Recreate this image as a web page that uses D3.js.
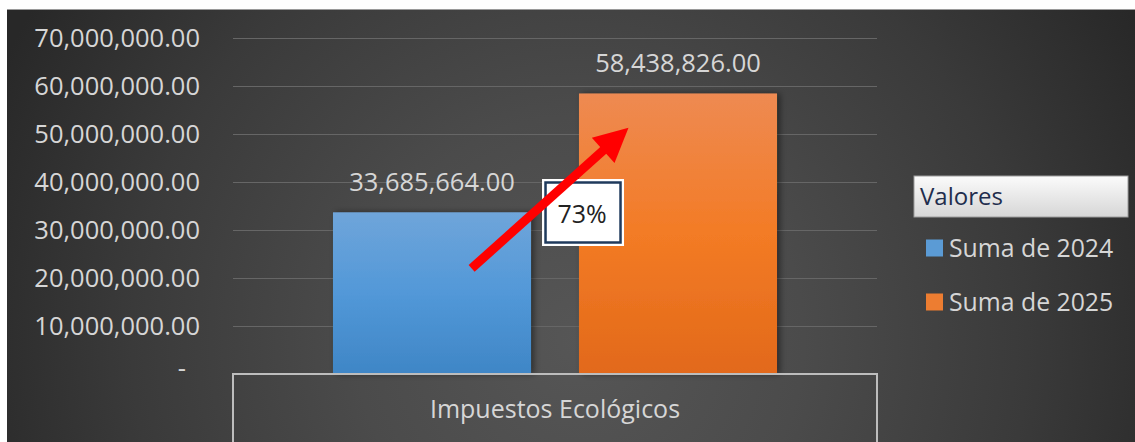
<!DOCTYPE html>
<html>
<head>
<meta charset="utf-8">
<script src="https://cdn.jsdelivr.net/npm/d3@7"></script>
<style>
  html, body { margin: 0; padding: 0; background: #fff; }
  svg { display: block; }
</style>
</head>
<body>
<div id="chart-container"></div>
<script>
// chart data
var categories = ['Impuestos Ecológicos'];
var seriesNames = ['Suma de 2024', 'Suma de 2025'];
var values2024 = [33685664];
var values2025 = [58438826];
var yTicks = [0, 10000000, 20000000, 30000000, 40000000, 50000000, 60000000, 70000000];
var legendTitle = 'Valores';
// arrow annotation, in data terms: [series, position inside bar, value]
var arrowFrom = ['Suma de 2024', 0.7, 22000000];
var arrowTo = ['Suma de 2025', 0.25, 51300000];

var svgWidth = 1135,
    svgHeight = 442,
    svg = d3.select('#chart-container').append('svg').attr('width', svgWidth).attr('height', svgHeight),
    plot = { left: 233, right: 877, top: 38, bottom: 374 };

var defs = svg.append('defs');

var bg = defs.append('radialGradient').attr('id', 'bg')
  .attr('gradientUnits', 'userSpaceOnUse')
  .attr('cx', 580).attr('cy', 340).attr('r', 640);
bg.append('stop').attr('offset', '0').attr('stop-color', '#565656');
bg.append('stop').attr('offset', '0.35').attr('stop-color', '#4b4b4b');
bg.append('stop').attr('offset', '0.7').attr('stop-color', '#3a3a3a');
bg.append('stop').attr('offset', '1').attr('stop-color', '#282828');

var blue = defs.append('linearGradient').attr('id', 'g2024').attr('x1', 0).attr('y1', 0).attr('x2', 0).attr('y2', 1);
blue.append('stop').attr('offset', '0').attr('stop-color', '#6fa5da');
blue.append('stop').attr('offset', '0.5').attr('stop-color', '#5298d8');
blue.append('stop').attr('offset', '1').attr('stop-color', '#3f86c6');

var orange = defs.append('linearGradient').attr('id', 'g2025').attr('x1', 0).attr('y1', 0).attr('x2', 0).attr('y2', 1);
orange.append('stop').attr('offset', '0').attr('stop-color', '#ee8a52');
orange.append('stop').attr('offset', '0.5').attr('stop-color', '#f37b25');
orange.append('stop').attr('offset', '1').attr('stop-color', '#e2691a');

var hdr = defs.append('linearGradient').attr('id', 'hdr').attr('x1', 0).attr('y1', 0).attr('x2', 0).attr('y2', 1);
hdr.append('stop').attr('offset', '0').attr('stop-color', '#fbfbfb');
hdr.append('stop').attr('offset', '1').attr('stop-color', '#d6d6d6');

var shadow = defs.append('filter').attr('id', 'shadow').attr('x', '-10%').attr('y', '-10%').attr('width', '130%').attr('height', '120%');
shadow.append('feDropShadow').attr('dx', 3).attr('dy', 0).attr('stdDeviation', 3)
  .attr('flood-color', '#000').attr('flood-opacity', 0.45);

var colors = { 'Suma de 2024': 'url(#g2024)', 'Suma de 2025': 'url(#g2025)' };
var legendColors = { 'Suma de 2024': '#5b9bd5', 'Suma de 2025': '#ed7d31' };

// chart area
svg.append('rect').attr('x', 7).attr('y', 9).attr('width', svgWidth - 7).attr('height', svgHeight - 9)
  .attr('fill', 'url(#bg)');
svg.append('line').attr('x1', 7).attr('x2', svgWidth).attr('y1', 9.5).attr('y2', 9.5)
  .attr('stroke', '#9a9a9a').attr('stroke-width', 1);

var x0 = d3.scaleBand().domain(categories).range([plot.left, plot.right]);
var x1 = d3.scaleBand().domain(seriesNames).range([0, x0.bandwidth()])
  .paddingInner(0.195).paddingOuter(0.4065);
var y = d3.scaleLinear().domain([0, 70000000]).range([plot.bottom, plot.top]);

var fmt = d3.format(',.2f');
var font = '"Open Sans", "DejaVu Sans", sans-serif';
var textGrey = '#d6d6d6';

// grid
svg.append('g').attr('class', 'grid')
  .selectAll('line').data(yTicks.filter(function(d) { return d > 0; })).enter().append('line')
  .attr('x1', plot.left).attr('x2', plot.right)
  .attr('y1', function(d) { return Math.round(y(d)) + 0.5; })
  .attr('y2', function(d) { return Math.round(y(d)) + 0.5; })
  .attr('stroke', '#666').attr('stroke-width', 1.2);

// y axis labels
var yAxis = svg.append('g').attr('transform', 'translate(200,0)')
  .call(d3.axisLeft(y).tickValues(yTicks).tickSize(0).tickPadding(0)
    .tickFormat(function(d) { return d === 0 ? '-' : fmt(d); }));
yAxis.select('.domain').remove();
yAxis.selectAll('text')
  .attr('fill', textGrey).attr('font-family', font).attr('font-size', 25.5)
  .attr('dy', '0.35em');
yAxis.selectAll('.tick').filter(function(d) { return d === 0; }).select('text')
  .attr('x', -14).attr('dy', '0.1em');

// bars
var rows = categories.map(function(c, i) {
  return { category: c, values: [
    { key: seriesNames[0], value: values2024[i] },
    { key: seriesNames[1], value: values2025[i] }
  ] };
});

var groups = svg.append('g').selectAll('g').data(rows).enter().append('g')
  .attr('transform', function(d) { return 'translate(' + x0(d.category) + ',0)'; });

groups.selectAll('rect').data(function(d) { return d.values; }).enter().append('rect')
  .attr('x', function(d) { return x1(d.key); })
  .attr('y', function(d) { return y(d.value); })
  .attr('width', x1.bandwidth())
  .attr('height', function(d) { return y(0) - y(d.value); })
  .attr('fill', function(d) { return colors[d.key]; })
  .attr('filter', 'url(#shadow)');

groups.selectAll('text.val').data(function(d) { return d.values; }).enter().append('text')
  .attr('class', 'val')
  .attr('x', function(d) { return x1(d.key) + x1.bandwidth() / 2; })
  .attr('y', function(d) { return y(d.value) - 30; })
  .attr('text-anchor', 'middle')
  .attr('dy', '0.35em')
  .attr('fill', textGrey).attr('font-family', font).attr('font-size', 25.5)
  .text(function(d) { return fmt(d.value); });

// category axis box
svg.append('rect').attr('x', plot.left).attr('y', plot.bottom)
  .attr('width', plot.right - plot.left).attr('height', 80)
  .attr('fill', 'none').attr('stroke', '#bdbdbd').attr('stroke-width', 2);
svg.append('g').selectAll('text').data(categories).enter().append('text')
  .attr('x', function(d) { return x0(d) + x0.bandwidth() / 2; })
  .attr('y', 409)
  .attr('text-anchor', 'middle').attr('dy', '0.35em')
  .attr('fill', textGrey).attr('font-family', font).attr('font-size', 25)
  .text(function(d) { return d; });

// change box
var change = values2025[0] / values2024[0] - 1;
var bx = x0(categories[0]) + x1(seriesNames[0]) + x1.bandwidth() + 11,
    by = 179;
svg.append('rect').attr('x', bx).attr('y', by).attr('width', 82).attr('height', 67).attr('fill', '#fff');
svg.append('rect').attr('x', bx + 3.5).attr('y', by + 3.5).attr('width', 75).attr('height', 60)
  .attr('fill', '#fff').attr('stroke', '#1f3a5c').attr('stroke-width', 2.5);
svg.append('text').attr('x', bx + 40).attr('y', by + 35)
  .attr('text-anchor', 'middle').attr('dy', '0.35em')
  .attr('fill', '#222').attr('font-family', font).attr('font-size', 25)
  .text(d3.format('.0%')(change));

// arrow
var ax1 = x0(categories[0]) + x1(arrowFrom[0]) + x1.bandwidth() * arrowFrom[1],
    ay1 = y(arrowFrom[2]),
    ax2 = x0(categories[0]) + x1(arrowTo[0]) + x1.bandwidth() * arrowTo[1],
    ay2 = y(arrowTo[2]);
var ang = Math.atan2(ay2 - ay1, ax2 - ax1),
    headLen = 34, headHalf = 17;
var hbx = ax2 - headLen * Math.cos(ang), hby = ay2 - headLen * Math.sin(ang);
svg.append('line').attr('x1', ax1).attr('y1', ay1).attr('x2', hbx + 2 * Math.cos(ang)).attr('y2', hby + 2 * Math.sin(ang))
  .attr('stroke', '#ff0000').attr('stroke-width', 9);
svg.append('path')
  .attr('d', d3.line()([
    [ax2, ay2],
    [hbx + headHalf * Math.sin(ang), hby - headHalf * Math.cos(ang)],
    [hbx - headHalf * Math.sin(ang), hby + headHalf * Math.cos(ang)]
  ]) + 'Z')
  .attr('fill', '#ff0000');

// legend
var legend = svg.append('g').attr('transform', 'translate(914,176)');
legend.append('rect').attr('width', 214).attr('height', 41)
  .attr('fill', 'url(#hdr)').attr('stroke', '#9c9c9c').attr('stroke-width', 1);
legend.append('text').attr('x', 6).attr('y', 21).attr('dy', '0.35em')
  .attr('fill', '#1f2d4d').attr('font-family', font).attr('font-size', 24)
  .text(legendTitle);
var items = legend.selectAll('g.item').data(seriesNames).enter().append('g').attr('class', 'item')
  .attr('transform', function(d, i) { return 'translate(12,' + (72 + i * 54) + ')'; });
items.append('rect').attr('x', 0).attr('y', -8.5).attr('width', 17).attr('height', 17)
  .attr('fill', function(d) { return legendColors[d]; });
items.append('text').attr('x', 23).attr('y', 0).attr('dy', '0.35em')
  .attr('fill', textGrey).attr('font-family', font).attr('font-size', 24.8)
  .text(function(d) { return d; });
</script>
</body>
</html>
